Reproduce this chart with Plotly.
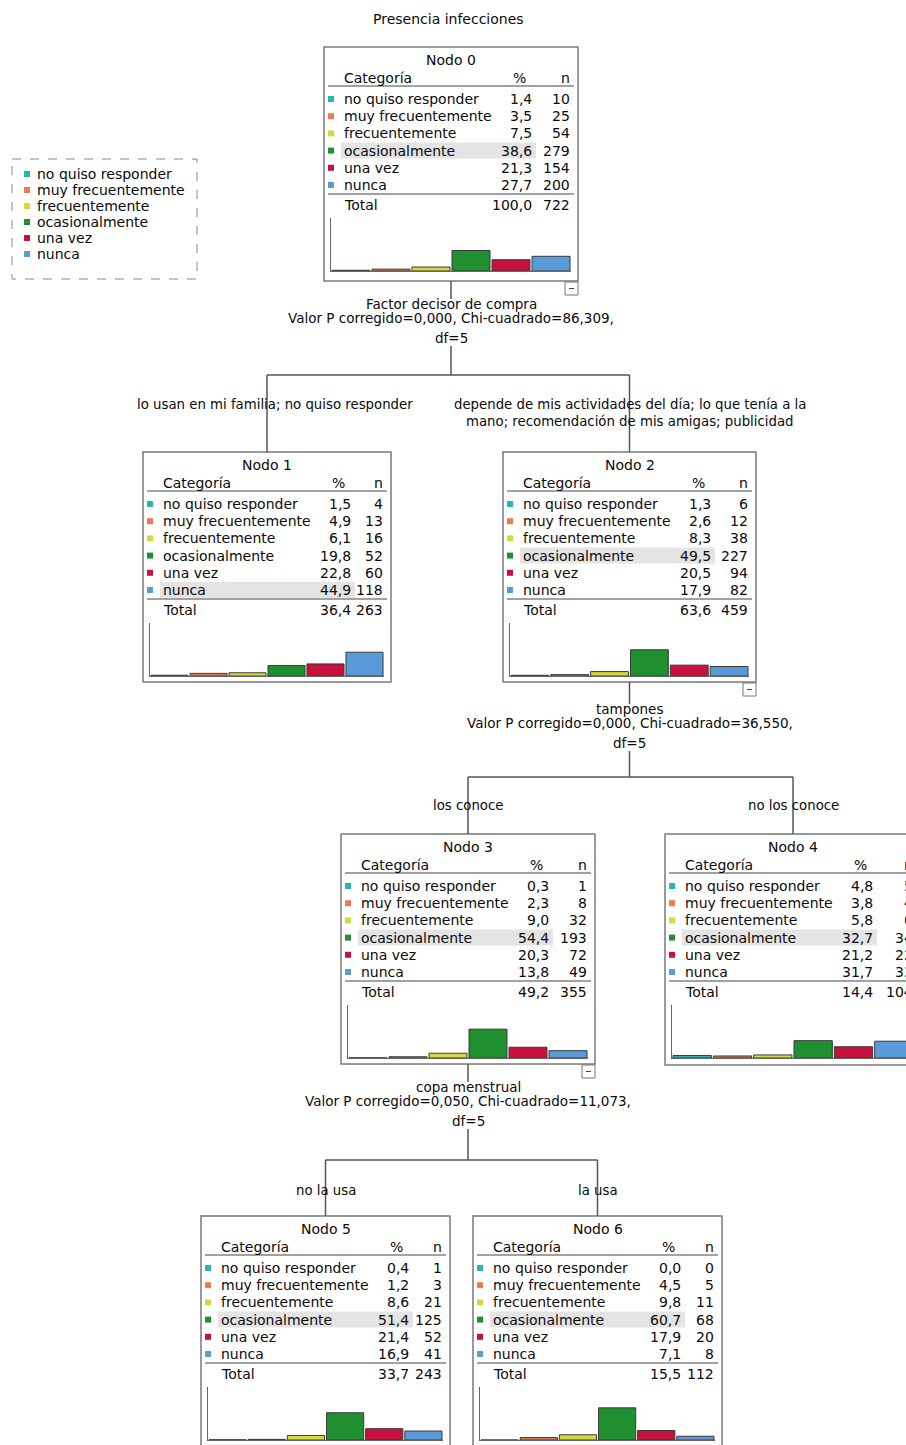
import plotly.graph_objects as go

W, H = 906, 1445
FONT = "DejaVu Sans"

# ---------------- data ----------------
title = "Presencia infecciones"
categories = ["no quiso responder", "muy frecuentemente", "frecuentemente",
              "ocasionalmente", "una vez", "nunca"]
cat_colors = ["#2bb5ad", "#e67e4e", "#d3db3c", "#1f8f2f", "#c8103c", "#5b9ad8"]

pct_node0 = [1.4, 3.5, 7.5, 38.6, 21.3, 27.7]
n_node0 = [10, 25, 54, 279, 154, 200]
pct_node1 = [1.5, 4.9, 6.1, 19.8, 22.8, 44.9]
n_node1 = [4, 13, 16, 52, 60, 118]
pct_node2 = [1.3, 2.6, 8.3, 49.5, 20.5, 17.9]
n_node2 = [6, 12, 38, 227, 94, 82]
pct_node3 = [0.3, 2.3, 9.0, 54.4, 20.3, 13.8]
n_node3 = [1, 8, 32, 193, 72, 49]
pct_node4 = [4.8, 3.8, 5.8, 32.7, 21.2, 31.7]
n_node4 = [5, 4, 6, 34, 22, 33]
pct_node5 = [0.4, 1.2, 8.6, 51.4, 21.4, 16.9]
n_node5 = [1, 3, 21, 125, 52, 41]
pct_node6 = [0.0, 4.5, 9.8, 60.7, 17.9, 7.1]
n_node6 = [0, 5, 11, 68, 20, 8]

total_pct = [100.0, 36.4, 63.6, 49.2, 14.4, 33.7, 15.5]
total_n = [722, 263, 459, 355, 104, 243, 112]

split_texts = {
    0: ["Factor decisor de compra",
        "Valor P corregido=0,000, Chi-cuadrado=86,309,", "df=5"],
    2: ["tampones",
        "Valor P corregido=0,000, Chi-cuadrado=36,550,", "df=5"],
    3: ["copa menstrual",
        "Valor P corregido=0,050, Chi-cuadrado=11,073,", "df=5"],
}
branch_labels = {
    1: ["lo usan en mi familia; no quiso responder"],
    2: ["depende de mis actividades del día; lo que tenía a la",
        "mano; recomendación de mis amigas; publicidad"],
    3: ["los conoce"],
    4: ["no los conoce"],
    5: ["no la usa"],
    6: ["la usa"],
}

node_pcts = [pct_node0, pct_node1, pct_node2, pct_node3, pct_node4, pct_node5, pct_node6]
node_ns = [n_node0, n_node1, n_node2, n_node3, n_node4, n_node5, n_node6]

# ---------------- layout geometry (pixels) ----------------
boxes = {
    0: dict(l=324, r=578, t=47, b=281),
    1: dict(l=143, r=391, t=452, b=682),
    2: dict(l=503, r=756, t=452, b=682),
    3: dict(l=341, r=595, t=834, b=1064),
    4: dict(l=665, r=921, t=834, b=1065),
    5: dict(l=201, r=450, t=1216, b=1449),
    6: dict(l=473, r=722, t=1216, b=1449),
}
splits = {  # parent: (children, split text y, horizontal line y, label y)
    0: ([1, 2], 304, 375, 404),
    2: ([3, 4], 709, 777, 805),
    3: ([5, 6], 1087, 1160, 1190),
}


def fx(x):
    return x / W


def fy(y):
    return 1 - y / H


def fmt(v):
    return f"{v:.1f}".replace(".", ",")


annotations = []
shapes = []


def text(x, y, s, size=14, anchor="left", color="#0a0a0a"):
    annotations.append(dict(x=fx(x), y=fy(y), xref="paper", yref="paper", text=s,
                            showarrow=False, xanchor=anchor, yanchor="middle",
                            font=dict(family=FONT, size=size, color=color)))


def line(x0, y0, x1, y1, color="#555", width=1.5, dash=None):
    ln = dict(color=color, width=width)
    if dash:
        ln["dash"] = dash
    shapes.append(dict(type="line", xref="paper", yref="paper", x0=fx(x0), y0=fy(y0),
                       x1=fx(x1), y1=fy(y1), line=ln, layer="below"))


def rect(x0, y0, x1, y1, fill=None, color="#777", width=1.5, dash=None, layer="below"):
    ln = dict(color=color, width=width)
    if dash:
        ln["dash"] = dash
    shapes.append(dict(type="rect", xref="paper", yref="paper", x0=fx(x0), y0=fy(y0),
                       x1=fx(x1), y1=fy(y1), line=ln,
                       fillcolor=fill if fill else "rgba(0,0,0,0)", layer=layer))


fig = go.Figure()

# title
text(448, 19, title, size=14, anchor="center")

# legend box
rect(12, 159, 197, 279, color="#888", width=1, dash="dash")
for i, c in enumerate(categories):
    yy = 174 + i * 16
    rect(24, yy - 3, 30, yy + 3, fill=cat_colors[i], color=cat_colors[i], width=0)
    text(35, yy, c, size=14)

# nodes
for k in range(7):
    bx = boxes[k]
    L, R, T, B = bx["l"], bx["r"], bx["t"], bx["b"]
    rect(L, T, R, B, fill="white", color="#7a7a7a", width=1.5)
    cx = (L + R) / 2
    text(cx, T + 13, f"Nodo {k}", anchor="center")
    pr = L + 210
    nr = R - 6
    text(L + 18, T + 31, "Categoría")
    text(pr - 6, T + 31, "%", anchor="right")
    text(nr, T + 31, "n", anchor="right")
    line(L + 4, T + 39, R - 4, T + 39, color="#444", width=1)
    pcts = node_pcts[k]
    ns = node_ns[k]
    imax = max(range(6), key=lambda i: pcts[i])
    for i in range(6):
        yy = T + 52 + i * 17.2
        if i == imax:
            rect(L + 17, yy - 8, L + 212, yy + 8, fill="#e4e4e4", color="#e4e4e4", width=0)
        rect(L + 4, yy - 3, L + 10, yy + 3, fill=cat_colors[i], color=cat_colors[i], width=0)
        text(L + 18, yy, categories[i])
        text(pr, yy, fmt(pcts[i]), anchor="right")
        text(nr, yy, str(ns[i]), anchor="right")
    line(L + 4, T + 147, R - 4, T + 147, color="#444", width=1)
    text(L + 18, T + 158, "Total")
    text(pr, T + 158, fmt(total_pct[k]), anchor="right")
    text(nr, T + 158, str(total_n[k]), anchor="right")

    # histogram subplot
    xa = "xaxis" if k == 0 else f"xaxis{k + 1}"
    ya = "yaxis" if k == 0 else f"yaxis{k + 1}"
    xr = "x" if k == 0 else f"x{k + 1}"
    yr = "y" if k == 0 else f"y{k + 1}"
    x0p, x1p = L + 7, R - 7
    rng_hi = 5.5
    if x1p > W:
        rng_hi = -0.5 + 6 * (W - x0p) / (x1p - x0p)
        x1p = W
    base = T + 224
    top = T + 171
    fig.add_trace(go.Bar(x=list(range(6)), y=pcts, xaxis=xr, yaxis=yr,
                         marker=dict(color=cat_colors, line=dict(color="#3a3a3a", width=1)),
                         width=0.95, showlegend=False, hoverinfo="skip"))
    fig.layout[xa] = dict(domain=[fx(x0p), fx(x1p)], range=[-0.5, rng_hi], anchor=yr,
                          showgrid=False, zeroline=False, showticklabels=False, ticks="",
                          showline=True, linecolor="#666", linewidth=1, fixedrange=True)
    fig.layout[ya] = dict(domain=[max(0, fy(base)), fy(top)], range=[0, 100], anchor=xr,
                          showgrid=False, zeroline=False, showticklabels=False, ticks="",
                          showline=True, linecolor="#666", linewidth=1, fixedrange=True)

# tree edges and split texts
for p, (children, ty, hy, ly) in splits.items():
    bx = boxes[p]
    pcx = (bx["l"] + bx["r"]) / 2
    # collapse button
    rect(bx["r"] - 13, bx["b"] + 1, bx["r"], bx["b"] + 14, fill="white", color="#777", width=1)
    line(bx["r"] - 9, bx["b"] + 7.5, bx["r"] - 4, bx["b"] + 7.5, color="#444", width=1)
    line(pcx, bx["b"], pcx, ty - 5)
    lines = split_texts[p]
    text(pcx, ty, lines[0], size=13.5, anchor="center")
    text(pcx, ty + 14, lines[1], size=13.5, anchor="center")
    text(pcx, ty + 34, lines[2], size=13.5, anchor="center")
    line(pcx, ty + 42, pcx, hy)
    ccx = [(boxes[c]["l"] + boxes[c]["r"]) / 2 for c in children]
    line(min(ccx), hy, max(ccx), hy)
    for c, x in zip(children, ccx):
        line(x, hy, x, boxes[c]["t"])
        lbl = branch_labels[c]
        off = 8 if c == 1 else 0
        for j, s in enumerate(lbl):
            text(x + off, ly + j * 17, s, size=13.3, anchor="center")

fig.update_layout(width=W, height=H, margin=dict(l=0, r=0, t=0, b=0),
                  paper_bgcolor="white", plot_bgcolor="rgba(0,0,0,0)",
                  showlegend=False, annotations=annotations, shapes=shapes,
                  bargap=0.05)

fig.write_html("out.html", config={"displayModeBar": False},
               post_script="document.body.style.margin='0';"
                           "document.body.style.overflow='hidden';")
